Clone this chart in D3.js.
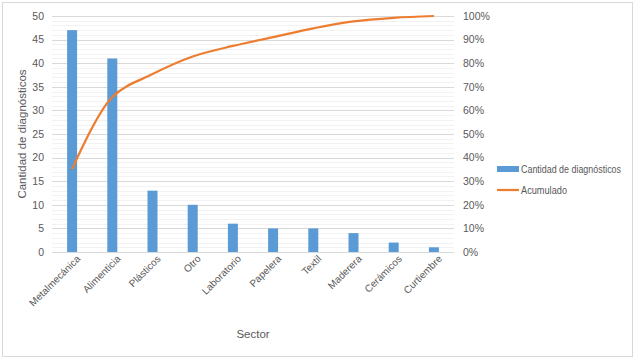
<!DOCTYPE html>
<html>
<head>
<meta charset="utf-8">
<script src="https://cdn.jsdelivr.net/npm/d3@7"></script>
<style>
body { margin:0; background:#fff; }
svg text { font-family: "Liberation Sans", Arial, sans-serif; fill:#595959; }
</style>
</head>
<body>
<div id="canvas"></div>
<script>
// data
var sectors = ["Metalmecánica","Alimenticia","Plásticos","Otro","Laboratorio","Papelera","Textil","Maderera","Cerámicos","Curtiembre"];
var counts = [47, 41, 13, 10, 6, 5, 5, 4, 2, 1];
var countTicks = [0,5,10,15,20,25,30,35,40,45,50];
var pctTicks = [0,0.1,0.2,0.3,0.4,0.5,0.6,0.7,0.8,0.9,1];

var W = 635, H = 359;
var m = {t:16, l:52, r:181, b:107};
var w = W - m.l - m.r, h = H - m.t - m.b;

var total = d3.sum(counts);
var cum = [];
counts.reduce(function(acc, v){ acc += v; cum.push(acc/total); return acc; }, 0);

var svg = d3.select('#canvas').append('svg')
    .attr('width', W).attr('height', H);

// outer frame
svg.append('rect').attr('x',2.5).attr('y',2.5).attr('width',W-5).attr('height',H-5)
    .attr('fill','#fff').attr('stroke','#d9d9d9');

var plot = svg.append('g').attr('transform','translate(' + m.l + ',' + m.t + ')');

var scaleX = d3.scaleBand().domain(sectors).range([0,w]);
var scaleY = d3.scaleLinear().domain([0,50]).range([h,0]);
var scaleP = d3.scaleLinear().domain([0,1]).range([h,0]);

// minor grid
plot.append('g').selectAll('line')
    .data(d3.range(0,51,1).filter(function(d){ return d % 5 !== 0; }))
    .enter().append('line')
    .attr('x1',0).attr('x2',w)
    .attr('y1',function(d){ return Math.round(scaleY(d))+0.5; })
    .attr('y2',function(d){ return Math.round(scaleY(d))+0.5; })
    .attr('stroke','#f2f2f2');

// major grid
plot.append('g').selectAll('line')
    .data(countTicks)
    .enter().append('line')
    .attr('x1',0).attr('x2',w)
    .attr('y1',function(d){ return Math.round(scaleY(d))+0.5; })
    .attr('y2',function(d){ return Math.round(scaleY(d))+0.5; })
    .attr('stroke','#d9d9d9');

// left axis
var axisY = d3.axisLeft(scaleY).tickValues(countTicks).tickSize(0).tickPadding(8);
var ay = plot.append('g').call(axisY);
ay.select('.domain').remove();
ay.selectAll('text').style('font-size','10.5px');

// right axis
var axisP = d3.axisRight(scaleP).tickValues(pctTicks).tickSize(0).tickPadding(9)
    .tickFormat(d3.format('.0%'));
var ap = plot.append('g').attr('transform','translate(' + w + ',0)').call(axisP);
ap.select('.domain').remove();
ap.selectAll('text').style('font-size','10.5px');

// bottom axis
var axisX = d3.axisBottom(scaleX).tickSize(0).tickPadding(8);
var ax = plot.append('g').attr('transform','translate(0,' + h + ')').call(axisX);
ax.select('.domain').remove();
ax.selectAll('text')
    .style('font-size','10px')
    .style('text-anchor','end')
    .attr('dx','0.1em').attr('dy','0.35em')
    .attr('transform','rotate(-45)');

// bars
var bw = 10;
plot.selectAll('rect.bar')
    .data(counts)
    .enter().append('rect')
    .attr('class','bar')
    .attr('x',function(d,i){ return scaleX(sectors[i]) + scaleX.bandwidth()/2 - bw/2; })
    .attr('y',function(d){ return scaleY(d); })
    .attr('width',bw)
    .attr('height',function(d){ return h - scaleY(d); })
    .attr('fill','#5b9bd5');

// cumulative line
var line = d3.line()
    .x(function(d,i){ return scaleX(sectors[i]) + scaleX.bandwidth()/2; })
    .y(function(d){ return scaleP(d); })
    .curve(d3.curveCatmullRom.alpha(0.5));
plot.append('path').datum(cum)
    .attr('d',line)
    .attr('fill','none')
    .attr('stroke','#ed7d31')
    .attr('stroke-width',2.25);

// axis titles
svg.append('text')
    .attr('transform','translate(26,' + (m.t + h/2) + ') rotate(-90)')
    .attr('text-anchor','middle')
    .style('font-size','11.5px')
    .text('Cantidad de diagnósticos');
svg.append('text')
    .attr('x', m.l + w/2).attr('y', 338)
    .attr('text-anchor','middle')
    .style('font-size','11.5px')
    .text('Sector');

// legend
var lg = svg.append('g').attr('transform','translate(497,169)');
lg.append('rect').attr('x',0).attr('y',-3).attr('width',22).attr('height',6).attr('fill','#5b9bd5');
lg.append('text').attr('x',24).attr('y',0).attr('dy','0.35em').style('font-size','10px')
    .attr('textLength',100).attr('lengthAdjust','spacingAndGlyphs')
    .text('Cantidad de diagnósticos');
lg.append('line').attr('x1',0).attr('x2',22).attr('y1',21).attr('y2',21)
    .attr('stroke','#ed7d31').attr('stroke-width',2.25);
lg.append('text').attr('x',24).attr('y',21).attr('dy','0.35em').style('font-size','10px')
    .attr('textLength',46).attr('lengthAdjust','spacingAndGlyphs')
    .text('Acumulado');
</script>
</body>
</html>
